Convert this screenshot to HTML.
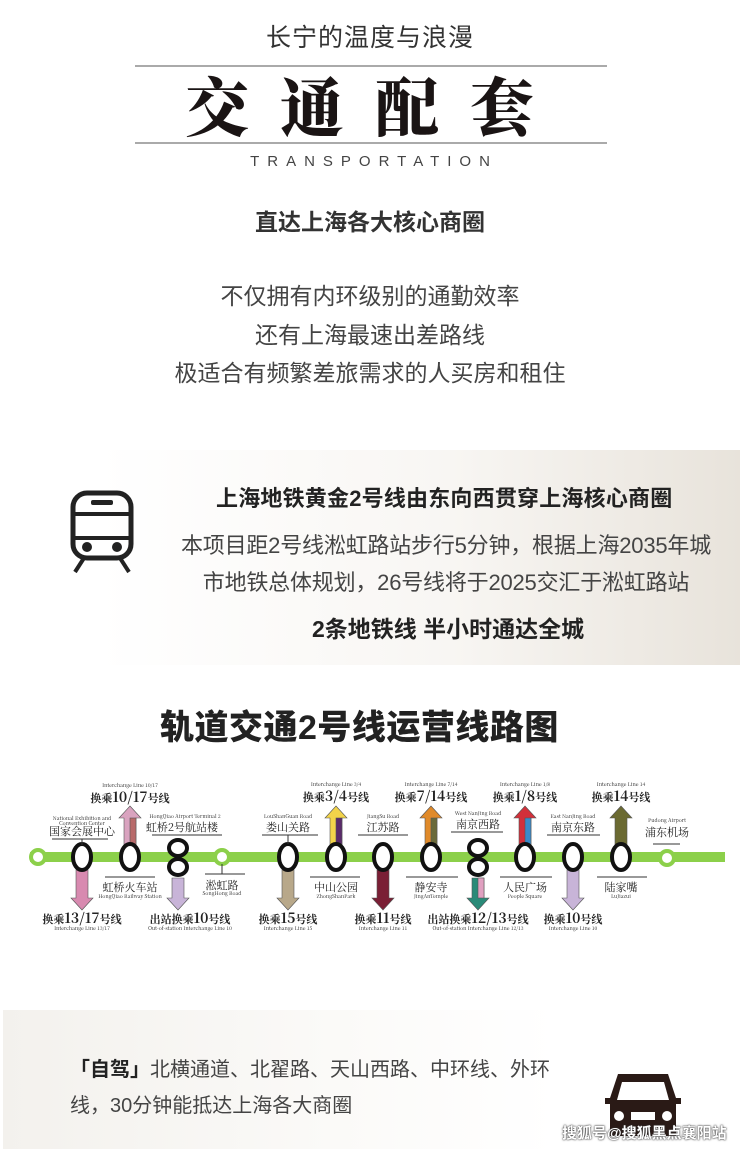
<!DOCTYPE html>
<html><head><meta charset="utf-8"><style>
body{margin:0;width:740px;height:1149px;background:#fff;position:relative;overflow:hidden;font-family:"Liberation Sans","Noto Sans CJK SC",sans-serif;color:#222}
.a{position:absolute;white-space:nowrap}
.c{left:0;width:740px;text-align:center}
</style></head><body>
<div class="a c" style="top:18px;font-size:25px;color:#333;letter-spacing:1px">长宁的温度与浪漫</div>
<div class="a" style="left:135px;top:65px;width:472px;height:2px;background:#aaa"></div>
<div class="a" style="left:185px;top:68px;font-family:'Noto Serif CJK SC',serif;font-weight:900;font-size:64px;line-height:72px;letter-spacing:31px;color:#1a1414">交通配套</div>
<div class="a" style="left:135px;top:142px;width:472px;height:2px;background:#aaa"></div>
<div class="a c" style="top:153px;font-size:15px;letter-spacing:8px;text-indent:8px;color:#444">TRANSPORTATION</div>
<div class="a c" style="top:203px;font-size:23px;font-weight:bold;color:#333">直达上海各大核心商圈</div>
<div class="a c" style="top:277px;font-size:23px;line-height:38.5px;color:#444">不仅拥有内环级别的通勤效率<br>还有上海最速出差路线<br>极适合有频繁差旅需求的人买房和租住</div>

<div class="a" style="left:100px;top:450px;width:640px;height:215px;background:linear-gradient(90deg,#fff 0%,#f8f6f3 55%,#e8e3db 100%)"></div>
<svg class="a" style="left:70px;top:490px" width="64" height="85" viewBox="0 0 64 85"><rect x="3" y="3" width="58" height="65" rx="14" fill="none" stroke="#222" stroke-width="5"/><line x1="3" y1="24" x2="61" y2="24" stroke="#222" stroke-width="4"/><line x1="3" y1="48" x2="61" y2="48" stroke="#222" stroke-width="4"/><rect x="21" y="10" width="22" height="5" rx="2" fill="#222"/><circle cx="17" cy="57" r="5" fill="#222"/><circle cx="47" cy="57" r="5" fill="#222"/><line x1="14" y1="68" x2="5" y2="82" stroke="#222" stroke-width="4"/><line x1="50" y1="68" x2="59" y2="82" stroke="#222" stroke-width="4"/></svg>
<div class="a" style="left:216px;top:481px;font-size:22px;font-weight:bold;color:#222;letter-spacing:0.2px">上海地铁黄金2号线由东向西贯穿上海核心商圈</div>
<div class="a" style="left:170px;top:527px;font-size:22px;line-height:37px;color:#444;text-align:center;width:552px;letter-spacing:-0.2px">本项目距2号线淞虹路站步行5分钟，根据上海2035年城<br>市地铁总体规划，26号线将于2025交汇于淞虹路站</div>
<div class="a" style="left:312px;top:610px;font-size:23px;font-weight:bold;color:#222">2条地铁线 半小时通达全城</div>

<div class="a" style="left:160px;top:700px;font-size:34px;font-weight:900;color:#222;letter-spacing:0.5px">轨道交通2号线运营线路图</div>

<svg class="a" style="left:0;top:770px" width="740" height="170" viewBox="0 770 740 170" font-family="'Noto Serif CJK SC',serif" text-anchor="middle" fill="#222">
<rect x="30" y="852" width="695" height="10" fill="#8cd04a"/>
<circle cx="38" cy="857" r="7" fill="#fff" stroke="#8cd04a" stroke-width="4"/>
<circle cx="222" cy="857" r="7" fill="#fff" stroke="#8cd04a" stroke-width="4"/>
<circle cx="667" cy="858" r="7" fill="#fff" stroke="#8cd04a" stroke-width="4"/>
<g stroke="#555" stroke-width="0.6">
<polygon points="124,845 124,818 119,818 130,806 141,818 136,818 136,845" fill="#d9a3bf"/><rect x="130" y="818" width="6" height="27" fill="#b86a6a"/>
<polygon points="330,845 330,818 325,818 336,806 347,818 342,818 342,845" fill="#f2d34a"/><rect x="336" y="818" width="6" height="27" fill="#5a2a6a"/>
<polygon points="425,845 425,818 420,818 431,806 442,818 437,818 437,845" fill="#e08a2a"/><rect x="431" y="818" width="6" height="27" fill="#6a6a3a"/>
<polygon points="519,845 519,818 514,818 525,806 536,818 531,818 531,845" fill="#d2303a"/><rect x="525" y="818" width="6" height="27" fill="#3a8ac8"/>
<polygon points="615,845 615,818 610,818 621,806 632,818 627,818 627,845" fill="#6b6a32"/>
<polygon points="76,870 76,898 71,898 82,910 93,898 88,898 88,870" fill="#d88ab0"/>
<polygon points="172,878 172,898 167,898 178,910 189,898 184,898 184,878" fill="#c8b4d8"/>
<polygon points="282,870 282,898 277,898 288,910 299,898 294,898 294,870" fill="#b8a88a"/>
<polygon points="377,870 377,898 372,898 383,910 394,898 389,898 389,870" fill="#7a1f35"/>
<polygon points="472,878 472,898 467,898 478,910 489,898 484,898 484,878" fill="#2a8a78"/><rect x="478" y="878" width="6" height="20" fill="#e0a0c0"/>
<polygon points="567,870 567,898 562,898 573,910 584,898 579,898 579,870" fill="#c8b4d8"/>
</g>
<g fill="#fff" stroke="#111" stroke-width="4">
<ellipse cx="82" cy="857" rx="9" ry="13"/><ellipse cx="130" cy="857" rx="9" ry="13"/>
<ellipse cx="178" cy="848" rx="9" ry="8"/><ellipse cx="178" cy="867" rx="9" ry="8"/>
<ellipse cx="288" cy="857" rx="9" ry="13"/><ellipse cx="336" cy="857" rx="9" ry="13"/><ellipse cx="383" cy="857" rx="9" ry="13"/><ellipse cx="431" cy="857" rx="9" ry="13"/>
<ellipse cx="478" cy="848" rx="9" ry="8"/><ellipse cx="478" cy="867" rx="9" ry="8"/>
<ellipse cx="525" cy="857" rx="9" ry="13"/><ellipse cx="573" cy="857" rx="9" ry="13"/><ellipse cx="621" cy="857" rx="9" ry="13"/>
</g>
<g stroke="#333" stroke-width="1">
<line x1="52" y1="839" x2="108" y2="839"/><line x1="82" y1="839" x2="82" y2="845"/>
<line x1="105" y1="877" x2="155" y2="877"/>
<line x1="152" y1="835" x2="222" y2="835"/>
<line x1="205" y1="874" x2="245" y2="874"/><line x1="222" y1="864" x2="222" y2="874"/>
<line x1="262" y1="835" x2="318" y2="835"/><line x1="288" y1="835" x2="288" y2="844"/>
<line x1="310" y1="877" x2="360" y2="877"/>
<line x1="358" y1="835" x2="408" y2="835"/>
<line x1="406" y1="877" x2="458" y2="877"/>
<line x1="451" y1="832" x2="503" y2="832"/>
<line x1="500" y1="877" x2="552" y2="877"/>
<line x1="547" y1="835" x2="600" y2="835"/>
<line x1="597" y1="877" x2="647" y2="877"/>
<line x1="653" y1="844" x2="680" y2="844"/>
</g>
<g font-size="5">
<text x="130" y="787">Interchange Line 10/17</text><text x="336" y="786">Interchange Line 3/4</text><text x="431" y="786">Interchange Line 7/14</text><text x="525" y="786">Interchange Line 1/8</text><text x="621" y="786">Interchange Line 14</text>
<text x="82" y="820">National Exhibition and</text><text x="82" y="825">Convention Center</text>
<text x="185" y="818">HongQiao Airport Terminal 2</text><text x="288" y="818">LouShanGuan Road</text><text x="383" y="818">JiangSu Road</text><text x="478" y="815">West NanJing Road</text><text x="573" y="818">East NanJing Road</text><text x="667" y="822">Pudong Airport</text>
<text x="130" y="898">HongQiao Railway Station</text><text x="222" y="895">SongHong Road</text><text x="336" y="898">ZhongShanPark</text><text x="431" y="898">JingAnTemple</text><text x="525" y="898">People Square</text><text x="621" y="898">LuJiazui</text>
<text x="82" y="930">Interchange Line 13/17</text><text x="190" y="930">Out-of-station Interchange Line 10</text><text x="288" y="930">Interchange Line 15</text><text x="383" y="930">Interchange Line 11</text><text x="478" y="930">Out-of-station Interchange Line 12/13</text><text x="573" y="930">Interchange Line 10</text>
</g>
<g font-size="11">
<text x="82" y="835">国家会展中心</text><text x="182" y="831">虹桥2号航站楼</text><text x="288" y="831">娄山关路</text><text x="383" y="831">江苏路</text><text x="478" y="828">南京西路</text><text x="573" y="831">南京东路</text><text x="667" y="836">浦东机场</text>
<text x="130" y="891">虹桥火车站</text><text x="222" y="889">淞虹路</text><text x="336" y="891">中山公园</text><text x="431" y="891">静安寺</text><text x="525" y="891">人民广场</text><text x="621" y="891">陆家嘴</text>
</g>
<g font-size="11" font-weight="bold">
<text x="130" y="802">换乘<tspan font-size="14">10/17</tspan>号线</text><text x="336" y="801">换乘<tspan font-size="14">3/4</tspan>号线</text><text x="431" y="801">换乘<tspan font-size="14">7/14</tspan>号线</text><text x="525" y="801">换乘<tspan font-size="14">1/8</tspan>号线</text><text x="621" y="801">换乘<tspan font-size="14">14</tspan>号线</text>
<text x="82" y="923">换乘<tspan font-size="14">13/17</tspan>号线</text><text x="190" y="923">出站换乘<tspan font-size="14">10</tspan>号线</text><text x="288" y="923">换乘<tspan font-size="14">15</tspan>号线</text><text x="383" y="923">换乘<tspan font-size="14">11</tspan>号线</text><text x="478" y="923">出站换乘<tspan font-size="14">12/13</tspan>号线</text><text x="573" y="923">换乘<tspan font-size="14">10</tspan>号线</text>
</g>
</svg>

<div class="a" style="left:3px;top:1010px;width:737px;height:139px;background:linear-gradient(90deg,#f3f1ed 0%,#fbfaf8 45%,#fff 75%,#fff 100%)"></div>
<div class="a" style="left:70px;top:1052px;font-size:20px;line-height:36px;color:#444"><b style="color:#222">「自驾」</b>北横通道、北翟路、天山西路、中环线、外环<br>线，30分钟能抵达上海各大商圈</div>
<svg class="a" style="left:604px;top:1070px" width="78" height="68" viewBox="0 0 78 68"><path d="M14 4 H64 L72 28 H77 V34 H72 V66 H6 V34 H1 V28 H6 Z" fill="#2a1a16"/><path d="M18 12 H60 L65 30 H13 Z" fill="#fff"/><circle cx="15" cy="46" r="5" fill="#fff"/><circle cx="63" cy="46" r="5" fill="#fff"/><rect x="27" y="42" width="24" height="8" fill="#fff"/></svg>
<div class="a" style="left:562px;top:1122px;font-size:15px;color:#fff;text-shadow:0 0 2px #333,0 0 1px #333;font-weight:bold">搜狐号@搜狐黑点襄阳站</div>
</body></html>
